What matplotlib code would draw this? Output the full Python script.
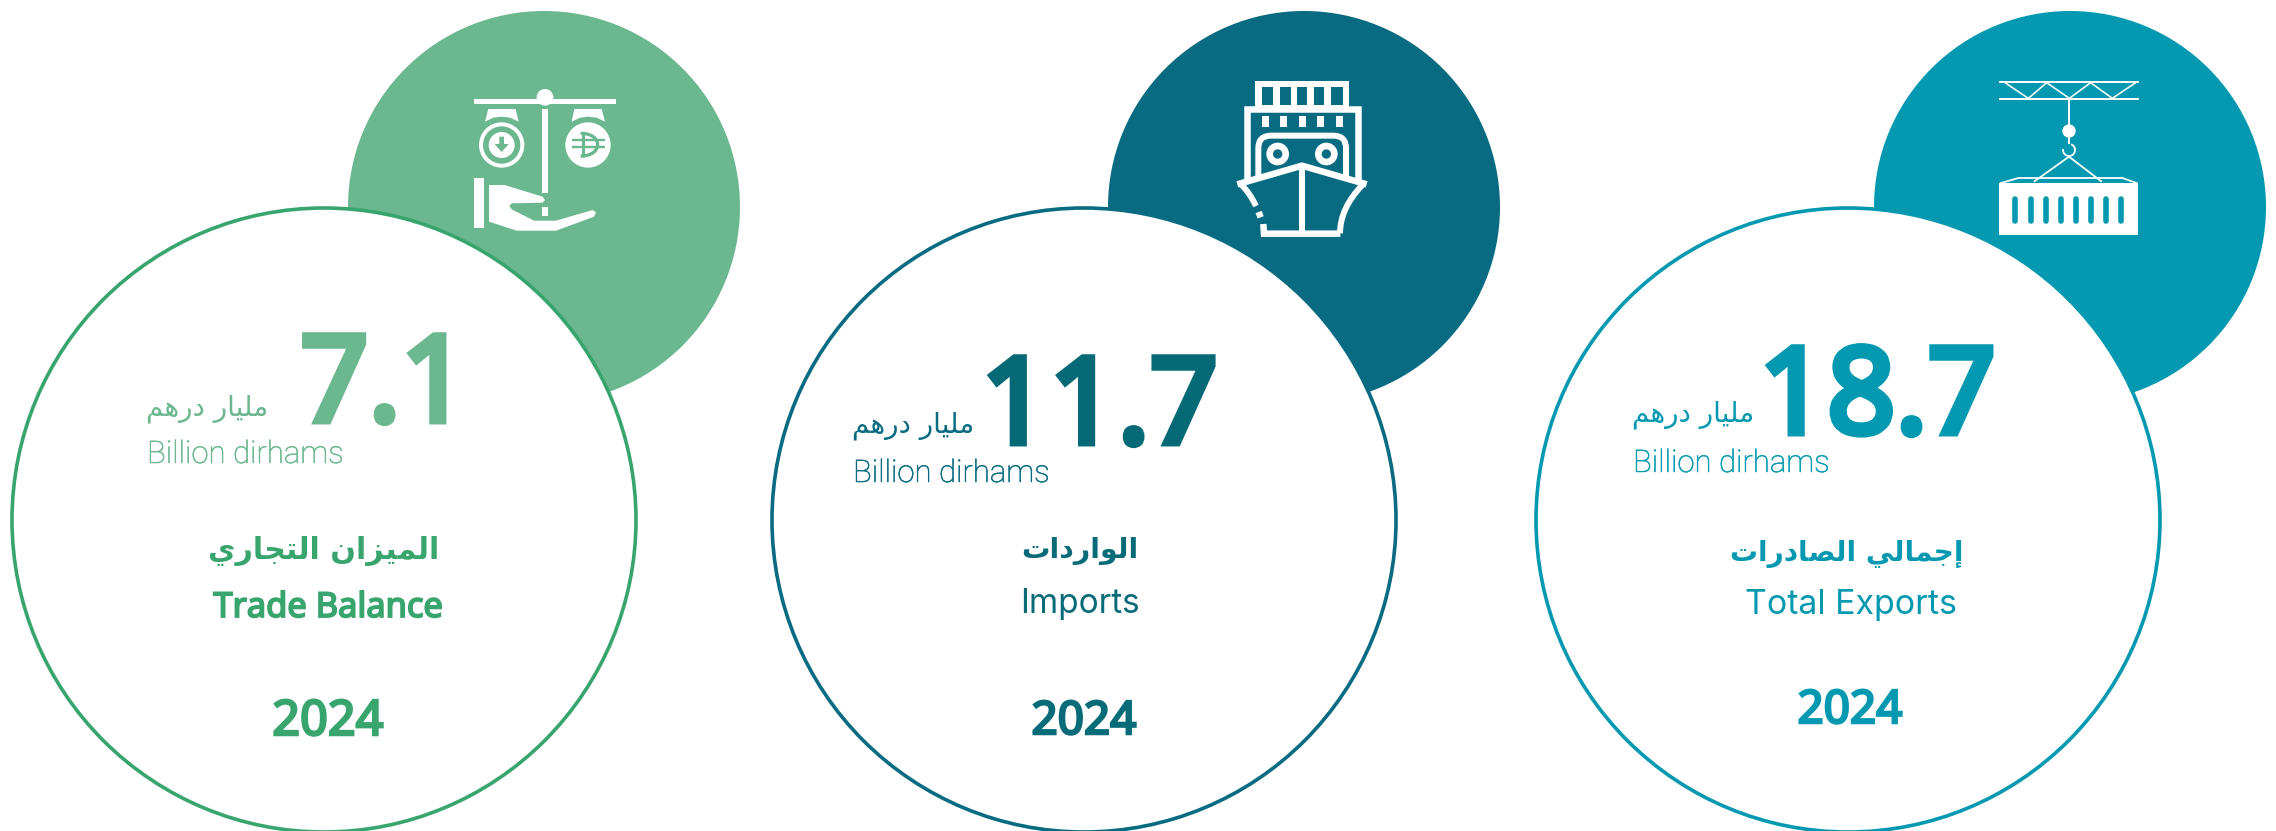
import numpy as np
import matplotlib
matplotlib.use('Agg')
import matplotlib.pyplot as plt
import matplotlib.patheffects as pe
from matplotlib.patches import Circle, Polygon, Rectangle, PathPatch
from matplotlib.path import Path

# Chart values
values = [7.1, 11.7, 18.7]
years = ['2024', '2024', '2024']
titles_en = ['Trade Balance', 'Imports', 'Total Exports']
titles_ar = ['الميزان التجاري', 'الواردات', 'إجمالي الصادرات']
unit_en = 'Billion dirhams'
unit_ar = 'مليار درهم'

# Colours per card
fill_colors = ['#6BB78F', '#086B82', '#0499B1']
line_colors = ['#38A56F', '#086B82', '#0499B1']
value_colors = ['#6BB78F', '#066A76', '#0499B1']
title_colors = ['#38A56F', '#086B78', '#0499B1']

# Layout, all in reference pixels
disc_x = [544, 1304, 2070]
ring_x = [324, 1084, 1848]
value_right = [469, 1218, 1996]
value_base = [421, 443, 433]
unit_left = [147, 853, 1633]
unit_ar_right = [268, 974, 1754]
unit_ar_base = [415, 432, 421]
unit_en_base = [463, 482, 472]
title_ar_x = [324, 1080, 1847]
title_en_x = [328, 1080, 1851]
title_ar_base = [559, 558, 561]
title_en_base = [617, 613, 614]
title_ar_size = [21.7, 20.4, 20.1]
title_en_size = [24.8, 24, 24.4]
year_x = [328, 1084, 1850]
year_base = [735, 734, 723]
year_size = [35, 33, 33]

# matplotlib does not shape Arabic, so map letters to their joined forms
FORMS = {
    'ا': '\uFE8D\uFE8E', 'إ': '\uFE87\uFE88', 'د': '\uFEA9\uFEAA', 'ر': '\uFEAD\uFEAE',
    'ز': '\uFEAF\uFEB0', 'و': '\uFEED\uFEEE',
    'ت': '\uFE95\uFE96\uFE97\uFE98', 'ج': '\uFE9D\uFE9E\uFE9F\uFEA0',
    'ص': '\uFEB9\uFEBA\uFEBB\uFEBC', 'ل': '\uFEDD\uFEDE\uFEDF\uFEE0',
    'م': '\uFEE1\uFEE2\uFEE3\uFEE4', 'ن': '\uFEE5\uFEE6\uFEE7\uFEE8',
    'ه': '\uFEE9\uFEEA\uFEEB\uFEEC', 'ي': '\uFEF1\uFEF2\uFEF3\uFEF4',
}


def shape(text):
    out = []
    for i, ch in enumerate(text):
        if ch not in FORMS:
            out.append(ch)
            continue
        forms = FORMS[ch]
        prev = text[i - 1] if i > 0 else ' '
        nxt = text[i + 1] if i + 1 < len(text) else ' '
        after_join = prev in FORMS and len(FORMS[prev]) == 4
        before_join = nxt in FORMS and len(forms) == 4
        if after_join and before_join:
            out.append(forms[3])
        elif before_join:
            out.append(forms[2])
        elif after_join:
            out.append(forms[1])
        else:
            out.append(forms[0])
    return ''.join(reversed(out))


fig = plt.figure(figsize=(22.76, 8.31), dpi=100)
ax = fig.add_axes([0, 0, 1, 1])
ax.set_xlim(0, 2276)
ax.set_ylim(831, 0)
ax.axis('off')

DISC_R, DISC_Y = 196, 207
RING_R, RING_Y = 312, 520

for i in range(3):
    ax.add_patch(Circle((disc_x[i], DISC_Y), DISC_R, fc=fill_colors[i], ec='none', zorder=1))
    ax.add_patch(Circle((ring_x[i], RING_Y), RING_R, fc='white', ec=line_colors[i], lw=2.6, zorder=2))


def pts(coords, ox):
    # icon coordinates were read at 3x zoom
    return [(ox + x / 3, y / 3) for x, y in coords]


def white_line(coords, ox, px, color='white', cap='butt'):
    p = pts(coords, ox)
    ax.plot([a for a, b in p], [b for a, b in p], color=color, lw=px * 0.72,
            solid_capstyle=cap, solid_joinstyle='miter', zorder=4)


def poly(coords, ox, color='white'):
    ax.add_patch(Polygon(pts(coords, ox), closed=True, fc=color, ec='none', zorder=4))


def disc(x, y, r, ox, color='white', z=4):
    ax.add_patch(Circle((ox + x / 3, y / 3), r / 3, fc=color, ec='none', zorder=z))


def box(x0, y0, x1, y1, ox, color='white', z=4):
    ax.add_patch(Rectangle((ox + x0 / 3, y0 / 3), (x1 - x0) / 3, (y1 - y0) / 3, fc=color, ec='none', zorder=z))


# Scale and hand icon
ox = 340
green = fill_colors[0]
box(402, 297, 828, 313, ox)
disc(615, 292, 25, ox)
box(607, 327, 623, 578, ox)
box(607, 620, 623, 648, ox)
poly([(445, 327), (527, 327), (536, 365), (510, 353), (485, 350), (460, 353), (435, 365)], ox)
poly([(703, 327), (785, 327), (795, 365), (770, 353), (745, 350), (720, 353), (695, 365)], ox)
disc(485, 435, 68, ox)
disc(485, 435, 56, ox, green, 5)
disc(485, 435, 39, ox, 'white', 6)
ax.add_patch(Polygon(pts([(478, 410), (492, 410), (492, 432), (506, 432), (485, 456), (464, 432), (478, 432)], ox),
                     fc=green, ec='none', zorder=7))
disc(744, 435, 68, ox)
ax.add_patch(PathPatch(Path(pts([(722, 400), (790, 400), (790, 468), (722, 468)], ox),
                            [Path.MOVETO, Path.CURVE4, Path.CURVE4, Path.CURVE4]),
                       fc='none', ec=green, lw=2.4, zorder=5))
white_line([(728, 398), (728, 470)], ox, 3, green)
white_line([(696, 420), (795, 420)], ox, 2.4, green)
white_line([(696, 442), (795, 442)], ox, 2.4, green)
box(402, 533, 432, 685, ox)
poly([(447, 555), (493, 555), (608, 590), (615, 600), (608, 608), (515, 610), (508, 618), (515, 628),
      (582, 662), (648, 662), (758, 630), (768, 638), (762, 650), (648, 692), (530, 692), (447, 665)], ox)

# Ship icon
ox = 1100
ship = fill_colors[1]
box(466, 243, 747, 335, ox)
for x0, x1 in [(485, 520), (540, 572), (590, 622), (641, 673), (692, 728)]:
    box(x0, 262, x1, 315, ox, ship, 5)
white_line([(440, 545), (440, 326), (773, 326), (773, 545)], ox, 6.5)
for x0 in [485, 541, 597, 651, 707]:
    box(x0, 348, x0 + 21, 382, ox)
arch = Path(pts([(475, 530), (475, 445), (475, 407), (513, 407), (700, 407), (738, 407), (738, 445), (738, 530)], ox),
            [Path.MOVETO, Path.LINETO, Path.CURVE3, Path.CURVE3, Path.LINETO, Path.CURVE3, Path.CURVE3, Path.LINETO])
ax.add_patch(PathPatch(arch, fc='none', ec='white', lw=4.3, zorder=4))
for cx in [533, 679]:
    disc(cx, 462, 34, ox)
    disc(cx, 462, 14, ox, ship, 5)
white_line([(412, 553), (606, 497), (800, 553)], ox, 6.5)
white_line([(606, 500), (606, 700)], ox, 6)
white_line([(490, 672), (492, 701), (721, 701)], ox, 6.5)
right_side = Path(pts([(787, 555), (720, 625), (720, 700)], ox), [Path.MOVETO, Path.CURVE3, Path.CURVE3])
ax.add_patch(PathPatch(right_side, fc='none', ec='white', lw=4.3, zorder=4))
left_side = Path(pts([(425, 555), (450, 580), (468, 618)], ox), [Path.MOVETO, Path.CURVE3, Path.CURVE3])
ax.add_patch(PathPatch(left_side, fc='none', ec='white', lw=4.3, zorder=4))
white_line([(476, 636), (482, 652)], ox, 6.5)

# Crane and container icon
ox = 1880
white_line([(357, 245), (777, 245)], ox, 2)
white_line([(357, 297), (777, 297)], ox, 2)
white_line([(375, 248), (445, 295), (500, 248), (568, 295), (632, 248), (697, 295), (767, 248)], ox, 1.6)
white_line([(567, 297), (567, 380)], ox, 2)
disc(567, 393, 20, ox)
white_line([(567, 412), (567, 432)], ox, 2)
a = np.radians(np.arange(-70, 200, 10))
white_line(list(zip(567 + 18 * np.cos(a), 450 + 18 * np.sin(a))), ox, 1.8)
white_line([(462, 545), (567, 470), (665, 545)], ox, 1.8)
white_line([(360, 550), (415, 534), (727, 534), (772, 550)], ox, 1.8)
box(357, 550, 773, 705, ox)
for cx in [406, 452, 497, 542, 587, 632, 677, 722]:
    white_line([(cx, 598), (cx, 664)], ox, 5.6, fill_colors[2], 'round')
    ax.lines[-1].set_zorder(5)


def fatten(text, color, width):
    # the variable fonts here only give the regular weight, thicken with a stroke
    text.set_path_effects([pe.withStroke(linewidth=width, foreground=color, joinstyle='miter')])


# Text
for i in range(3):
    c = fill_colors[i]
    tc = title_colors[i]
    vc = value_colors[i]
    t = ax.text(value_right[i], value_base[i], f'{values[i]:.1f}', color=vc, fontsize=86, family='Noto Sans',
                ha='right', va='baseline', zorder=6)
    fatten(t, vc, 5.0)
    ax.text(unit_ar_right[i], unit_ar_base[i], shape(unit_ar), color=c, fontsize=20, family='DejaVu Sans',
            ha='right', va='baseline', zorder=6)
    t = ax.text(unit_left[i], unit_en_base[i], unit_en, color=c, fontsize=22.4, family='Roboto', weight='light',
                ha='left', va='baseline', zorder=6)
    fatten(t, c, 0.35)
    ax.text(title_ar_x[i], title_ar_base[i], shape(titles_ar[i]), color=tc, fontsize=title_ar_size[i],
            family='DejaVu Sans', weight='bold', ha='center', va='baseline', zorder=6)
    t = ax.text(title_en_x[i], title_en_base[i], titles_en[i], color=tc, fontsize=title_en_size[i],
                family='Noto Sans' if i == 0 else 'Inter', ha='center', va='baseline', zorder=6)
    if i == 0:
        fatten(t, tc, 1.3)
    t = ax.text(year_x[i], year_base[i], years[i], color=tc, fontsize=year_size[i], family='Noto Sans',
                ha='center', va='baseline', zorder=6)
    fatten(t, tc, 1.8)

fig.savefig('out.png', dpi=100, facecolor='white')
